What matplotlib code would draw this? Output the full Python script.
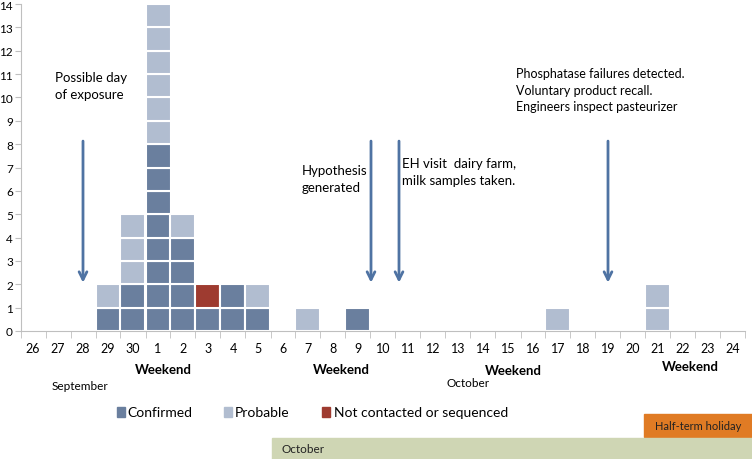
import numpy as np
import matplotlib.pyplot as plt
from matplotlib.patches import Rectangle

plt.rcParams["font.family"] = ["Lato", "DejaVu Sans"]

# onset days, 26 Sep .. 24 Oct
days = ["26", "27", "28", "29", "30"] + [str(d) for d in range(1, 25)]
confirmed = [0, 0, 0, 1, 2, 8, 4, 1, 2, 1, 0, 0, 0, 1, 0, 0, 0, 0, 0, 0, 0, 0, 0, 0, 0, 0, 0, 0, 0]
not_contacted = [0, 0, 0, 0, 0, 0, 0, 1, 0, 0, 0, 0, 0, 0, 0, 0, 0, 0, 0, 0, 0, 0, 0, 0, 0, 0, 0, 0, 0]
probable = [0, 0, 0, 1, 3, 6, 1, 0, 0, 1, 0, 1, 0, 0, 0, 0, 0, 0, 0, 0, 0, 1, 0, 0, 0, 2, 0, 0, 0]

# arrow positions: (index of day, offset within the day)
events = [
    (2, 0.0),    # 28 Sep
    (13, 0.52),  # 9 Oct
    (14, 0.64),  # 10 Oct
    (23, 0.0),   # 19 Oct
]

C_CONF = "#6a7f9e"
C_PROB = "#b1bdd0"
C_NC = "#9e3b30"
C_ARROW = "#4f73a3"

W, H = 752, 460
fig = plt.figure(figsize=(W / 100, H / 100), dpi=100)


def fx(px):
    return px / W


def fy(py):
    return 1 - py / H


ax = fig.add_axes([fx(20.5), fy(332), fx(725), (332 - 5) / H])

x = np.arange(len(days))
for i in x:
    bottom = 0
    for n, col in ((confirmed[i], C_CONF), (not_contacted[i], C_NC), (probable[i], C_PROB)):
        for k in range(n):
            ax.bar(i, 1, bottom=bottom, width=1.0, color=col, edgecolor="white", linewidth=1.5)
            bottom += 1

ax.set_xlim(-0.5, len(days) - 0.5)
ax.set_ylim(0, 14)
ax.set_yticks(range(15))
ax.set_xticks(x)
ax.set_xticklabels(days)
ax.set_xticks(np.arange(-0.5, len(days)), minor=True)
ax.tick_params(axis="x", which="major", length=0, pad=8, labelsize=9)
ax.tick_params(axis="x", which="minor", length=5, color="#bfbfbf")
ax.tick_params(axis="y", length=4, color="#bfbfbf", labelsize=8.5, pad=1.5)
for s in ("top", "right"):
    ax.spines[s].set_visible(False)
for s in ("left", "bottom"):
    ax.spines[s].set_color("#bfbfbf")

# event arrows
for idx, off in events:
    xi = idx + off
    ax.annotate("", xy=(xi, 1.95), xytext=(xi, 8.25),
                arrowprops=dict(arrowstyle="->", color=C_ARROW, lw=2, mutation_scale=14))

ax.text(0.88, 11.15, "Possible day\nof exposure", fontsize=9.5, va="top", linespacing=1.5)
ax.text(10.75, 7.15, "Hypothesis\ngenerated", fontsize=9.5, va="top", linespacing=1.5)
ax.text(14.75, 7.45, "EH visit  dairy farm,\nmilk samples taken.", fontsize=9.5, va="top", linespacing=1.5)
ax.text(19.3, 11.3, "Phosphatase failures detected.\nVoluntary product recall.\nEngineers inspect pasteurizer",
        fontsize=9, va="top", linespacing=1.45)

# labels below the axis
for px, py in ((163, 370), (341, 370), (513, 371), (690, 367)):
    fig.text(fx(px), fy(py), "Weekend", fontsize=9.5, fontweight="bold", ha="center", va="center")
fig.text(fx(80), fy(386), "September", fontsize=8.5, ha="center", va="center")
fig.text(fx(468), fy(384), "October", fontsize=8.5, ha="center", va="center")

# legend
for sq, tx, label, col in ((117, 127, "Confirmed", C_CONF), (224.5, 235, "Probable", C_PROB),
                           (322, 334, "Not contacted or sequenced", C_NC)):
    fig.patches.append(Rectangle((fx(sq), fy(418)), fx(8), 10 / H, color=col, transform=fig.transFigure))
    fig.text(fx(tx), fy(413), label, fontsize=10, va="center")

# holiday bars
fig.patches.append(Rectangle((fx(644), fy(438)), fx(108), 23 / H, color="#e07b24", transform=fig.transFigure))
fig.text(fx(698), fy(427), "Half-term holiday", fontsize=8, ha="center", va="center", color="#222222")
fig.patches.append(Rectangle((fx(272), 0), fx(480), 21 / H, color="#cfd6b4", transform=fig.transFigure))
fig.text(fx(281), fy(450), "October", fontsize=8.5, va="center", color="#222222")

fig.savefig("out.png", dpi=100)
